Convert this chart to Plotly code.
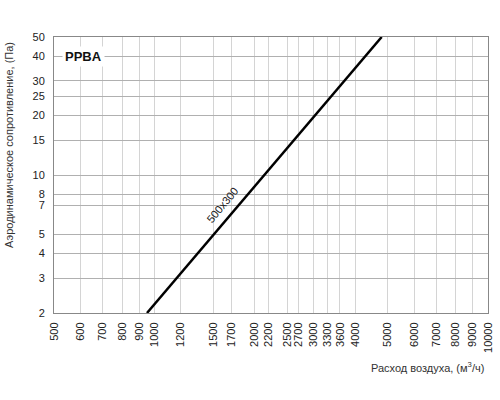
import plotly.graph_objects as go

# data
flow = [950, 4800]          # расход воздуха, м3/ч
pressure = [2, 50]          # сопротивление, Па
series_name = '500x300'
model = 'PPBA'

x_ticks = [500, 600, 700, 800, 900, 1000, 1200, 1500, 1700, 2000, 2200, 2500, 2700,
           3000, 3300, 3600, 4000, 5000, 6000, 7000, 8000, 9000, 10000]
y_ticks = [2, 3, 4, 5, 7, 8, 10, 15, 20, 25, 30, 40, 50]

font = 'Liberation Sans, Arial, sans-serif'

W, H = 500, 400
ml, mr, mt, mb = 54, 12, 37, 87
pw, ph = W - ml - mr, H - mt - mb

fig = go.Figure()
fig.add_trace(go.Scatter(x=flow, y=pressure, mode='lines', name=series_name,
                         line=dict(color='black', width=2.5)))

# line label, rotated along the curve (log axes -> log10 positions)
fig.add_annotation(x=3.203, y=0.85, xref='x', yref='y', text=series_name,
                   showarrow=False, textangle=-50,
                   font=dict(family=font, size=11, color='#222'))
# model name in the corner
fig.add_annotation(x=2.786, y=1.602, xref='x', yref='y', text='<b>' + model + '</b>',
                   showarrow=False, bgcolor='white', borderpad=2,
                   font=dict(family=font, size=13, color='#111'))

# axis titles, placed by screen pixel
def px(x, y):
    return (x - ml) / pw, 1 - (y - mt) / ph

tx, ty = px(9, 145)
fig.add_annotation(x=tx, y=ty, xref='paper', yref='paper',
                   text='Аэродинамическое сопротивление, (Па)',
                   showarrow=False, textangle=-90, xanchor='center', yanchor='middle',
                   font=dict(family=font, size=11, color='#333'))
tx, ty = px(486, 367)
fig.add_annotation(x=tx, y=ty, xref='paper', yref='paper',
                   text='Расход воздуха, (м<sup>3</sup>/ч)',
                   showarrow=False, xanchor='right', yanchor='middle',
                   font=dict(family=font, size=11, color='#333'))

fig.update_layout(
    width=W, height=H,
    margin=dict(l=ml, r=mr, t=mt, b=mb, autoexpand=False),
    paper_bgcolor='white', plot_bgcolor='white',
    showlegend=False,
    font=dict(family=font, size=11, color='#222'),
)
fig.update_xaxes(type='log', range=[2.69897, 4], tickvals=x_ticks,
                 ticktext=[str(v) for v in x_ticks], tickangle=-90,
                 showgrid=True, gridcolor='#d4d4d4', gridwidth=1,
                 showline=True, linecolor='#888', mirror=True, ticks='',
                 zeroline=False, automargin=False, ticklabelstandoff=4,
                 tickfont=dict(size=11, color='#222'))
fig.update_yaxes(type='log', range=[0.30103, 1.69897], tickvals=y_ticks,
                 ticktext=[str(v) for v in y_ticks],
                 showgrid=True, gridcolor='#b0b0b0', gridwidth=1,
                 showline=True, linecolor='#888', mirror=True, ticks='',
                 zeroline=False, automargin=False, ticklabelstandoff=6,
                 tickfont=dict(size=11, color='#222'))

# drop the browser's default body margin so the figure sits at 0,0
fig.write_html("out.html", config={'displayModeBar': False},
               post_script="document.body.style.margin='0';")
